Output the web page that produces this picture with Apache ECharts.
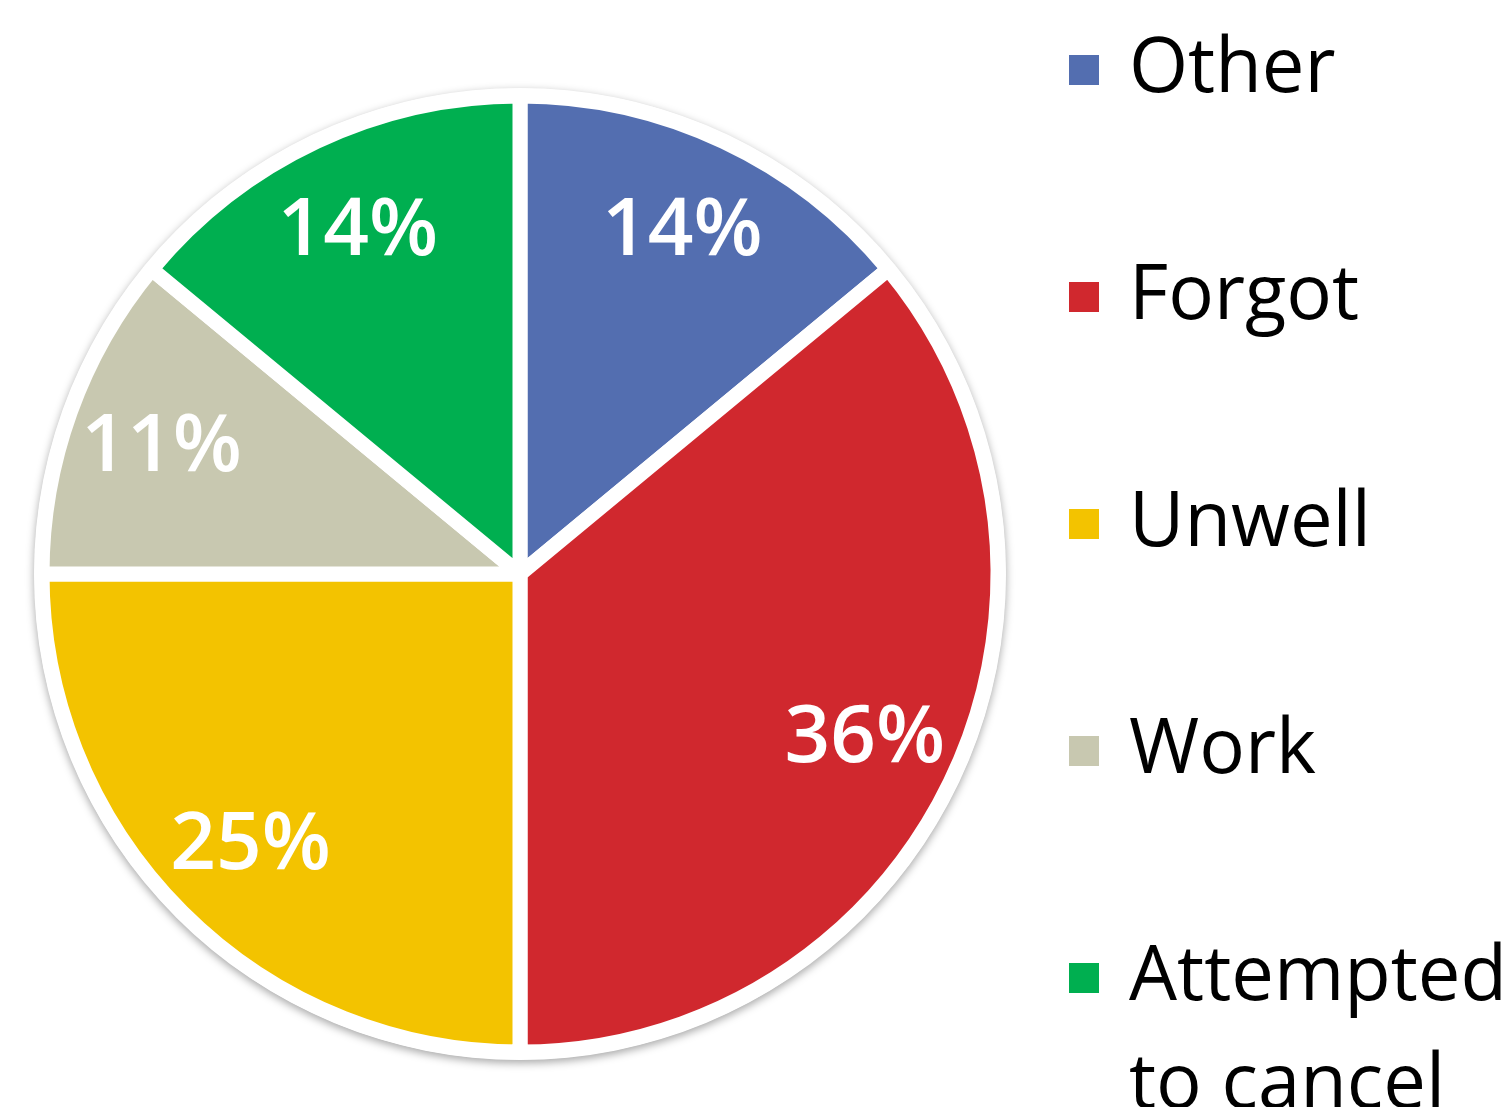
<!DOCTYPE html>
<html>
<head>
<meta charset="utf-8">
<script src="https://cdn.jsdelivr.net/npm/echarts@6/dist/echarts.min.js"></script>
<style>
html,body{margin:0;padding:0;background:#fff;}
#chart{width:1511px;height:1107px;}
</style>
</head>
<body>
<div id="chart"></div>
<script>
const categories = ['Other', 'Forgot', 'Unwell', 'Work', 'Attempted to cancel'];
const values = [14, 36, 25, 11, 14];
const colors = ['#536EB0', '#D0282E', '#F3C300', '#C8C8B0', '#00AF50'];
const legendLines = {
  'Attempted to cancel': ['Attempted', 'to cancel']
};

const chart = echarts.init(document.getElementById('chart'), null, {renderer: 'canvas'});

const LH = 108;

const option = {
  backgroundColor: '#fff',
  animation: false,
  color: colors,
  legend: {
    orient: 'vertical',
    left: 1067,
    top: 70 - LH * 1.5,
    height: 1600,
    padding: 0,
    icon: 'rect',
    itemWidth: 32,
    itemHeight: 32,
    itemGap: 227 - LH * 3,
    data: categories,
    formatter: function (name) {
      const lines = legendLines[name] || [name];
      // first line of each entry sits beside its marker
      const block = [' '].concat(lines);
      while (block.length < 3) block.push(' ');
      return block.join('\n');
    },
    textStyle: {
      fontFamily: 'Open Sans',
      fontSize: 76,
      color: '#000',
      lineHeight: LH,
      padding: [0, 0, 0, 24]
    },
    selectedMode: false
  },
  series: [
    {
      name: 'bg',
      type: 'pie',
      center: [520, 574],
      radius: [0, 486],
      silent: true,
      label: { show: false },
      labelLine: { show: false },
      itemStyle: {
        color: '#fff',
        shadowBlur: 8,
        shadowOffsetY: 3,
        shadowColor: 'rgba(0,0,0,0.35)'
      },
      data: [{ name: 'bg', value: 1 }]
    },
    {
      name: 'Reasons',
      type: 'pie',
      center: [520, 574],
      radius: [0, 478],
      startAngle: 90,
      clockwise: true,
      silent: true,
      label: { show: false },
      labelLine: { show: false },
      itemStyle: { borderColor: '#fff', borderWidth: 15 },
      data: categories.map(function (n, i) { return { name: n, value: values[i] }; })
    },
    {
      name: 'Labels',
      type: 'pie',
      center: [520, 574],
      radius: [286, 470],
      startAngle: 90,
      clockwise: true,
      silent: true,
      legendHoverLink: false,
      itemStyle: { color: 'rgba(0,0,0,0)' },
      labelLine: { show: false },
      labelLayout: { dy: 3 },
      label: {
        show: true,
        position: 'inside',
        formatter: '{c}%',
        color: '#fff',
        fontFamily: 'Open Sans',
        fontWeight: 600,
        fontSize: 80
      },
      data: categories.map(function (n, i) { return { name: n, value: values[i] }; })
    }
  ]
};
chart.setOption(option);
</script>
</body>
</html>
